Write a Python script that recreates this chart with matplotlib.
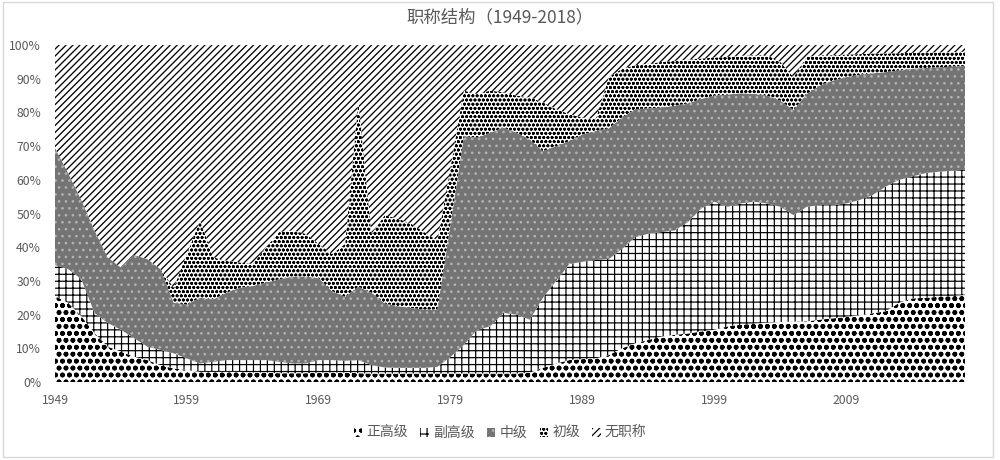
import numpy as np
import matplotlib
matplotlib.use('Agg')
import matplotlib.pyplot as plt
from matplotlib.patches import Rectangle

plt.rcParams['font.family'] = ['Noto Sans CJK SC', 'DejaVu Sans']
plt.rcParams['hatch.linewidth'] = 0.7

years = list(range(1949, 2019))

# 正高级 (%)
zheng_gao = [25.5, 23.5, 19.5, 14.5, 10.5, 9, 7.5, 6.5, 5, 4,
             3.6, 3, 3, 3, 3, 2.8, 2.8, 2.6, 2.6, 2.6,
             2.8, 2.8, 2.8, 2.6, 2.5, 2.5, 2.5, 2.5, 2.5, 2.5,
             2.5, 2.5, 2.5, 2.5, 2.5, 2.5, 2.8, 4.2, 5.5, 6.5,
             6.8, 7, 8, 10, 11.5, 12.5, 13.5, 14, 14.4, 15,
             15.5, 16.5, 17, 17.3, 17.6, 17.8, 17.9, 18, 18.5, 18.9,
             19.3, 19.8, 20.4, 21, 23.5, 24.8, 25, 25.3, 25.5, 25.8]
# 副高级 (%)
fu_gao = [9.2, 10, 11, 6, 7, 6.5, 5.5, 4, 4.5, 4.5,
          3.4, 2.5, 3, 3.5, 3.5, 3.7, 3.7, 3.4, 2.9, 2.9,
          3.7, 3.7, 3.5, 3.9, 2.5, 1.8, 1.7, 1.7, 1.7, 2,
          5, 8.5, 13, 14, 18, 17.5, 15.7, 20.8, 24.5, 28.5,
          28.9, 29.2, 28.5, 29.5, 31.5, 31.5, 31, 31, 33.1, 36.5,
          38, 35.5, 36, 36.2, 35.4, 34.2, 31.6, 34, 34, 33.6,
          33.7, 34.2, 35.1, 37, 36.5, 36.2, 37, 37.1, 37.2, 37.2]
# 中级 (%)
zhong_ji = [34.8, 28.5, 23.5, 24.5, 19.5, 18.5, 24.7, 26, 24, 15,
            16, 19.5, 18.5, 20, 21.5, 22, 23, 24.5, 25.8, 25.8,
            24.3, 20.5, 19, 21.8, 21.5, 19, 18.3, 17.8, 17.3, 17,
            39.5, 62, 57, 57.5, 55, 54, 53.5, 43.5, 40, 36.5,
            37.8, 38.3, 38.8, 39, 38, 37.2, 37, 37, 35.2, 32.5,
            31.5, 33.3, 32.7, 32, 32, 31.5, 31.2, 33.5, 35.5, 37,
            37.5, 37.2, 36.1, 34, 32.5, 32, 31.2, 31, 30.9, 30.8]
# 初级 (%)
chu_ji = [0, 0, 0, 0, 0, 0, 0, 0, 0, 4.5,
          15, 23, 12.5, 9.5, 7.5, 6.5, 10.5, 14, 13.7, 12.7,
          10.2, 11, 15.7, 55.2, 17.5, 26.2, 26, 25, 23, 20.5,
          17, 13.5, 13, 12.5, 10.5, 11, 12.5, 14.5, 11, 8,
          5, 3.5, 15.2, 14.5, 13, 13.3, 13.5, 13.3, 13, 12,
          11.3, 11.2, 11.1, 11.5, 12, 11.5, 9.8, 11, 9, 7.5,
          6.7, 6.1, 5.9, 5.5, 5.1, 4.7, 4.6, 4.4, 4.3, 4.2]
# 无职称 (%)
wu_zhicheng = [30.5, 38, 46, 55, 63, 66, 62.3, 63.5, 66.5, 72,
               62, 52, 63, 64, 64.5, 65, 60, 55.5, 55, 56,
               59, 62, 59, 16.5, 56, 50.5, 51.5, 53, 55.5, 58,
               36, 13.5, 14.5, 13.5, 14, 15, 15.5, 17, 19, 20.5,
               21.5, 22, 9.5, 7, 6, 5.5, 5, 4.7, 4.3, 4,
               3.7, 3.5, 3.2, 3, 3, 5, 9.5, 3.5, 3, 3,
               2.8, 2.7, 2.5, 2.5, 2.4, 2.3, 2.2, 2.2, 2.1, 2]

series_names = ['正高级', '副高级', '中级', '初级', '无职称']
x_ticks = list(range(1949, 2010, 10))
y_ticks = list(range(0, 101, 10))

styles = [
    dict(facecolor='white', edgecolor='black', hatch='ooo...'),
    dict(facecolor='white', edgecolor='black', hatch='+++'),
    dict(facecolor='#747474', edgecolor='#b4b4b4', hatch='...'),
    dict(facecolor='white', edgecolor='black', hatch='ooooo'),
    dict(facecolor='white', edgecolor='black', hatch='//////'),
]
hatch_lw = [1.15, 0.7, 0.7, 0.7, 0.75]

data = np.array([zheng_gao, fu_gao, zhong_ji, chu_ji, wu_zhicheng], dtype=float)
data = data / data.sum(axis=0) * 100.0
cum = np.vstack([np.zeros(len(years)), np.cumsum(data, axis=0)])

fig = plt.figure(figsize=(8, 3.68), dpi=125)
ax = fig.add_axes([0.055, 0.1696, 0.91, 0.7324])

handles = []
for i, name in enumerate(series_names):
    h = ax.fill_between(years, cum[i], cum[i + 1], linewidth=0,
                        label=name, **styles[i])
    if hasattr(h, 'set_hatch_linewidth'):
        h.set_hatch_linewidth(hatch_lw[i])
    handles.append(h)

ax.set_xlim(1949, 2018)
ax.set_ylim(0, 100)
ax.set_xticks(x_ticks)
ax.set_xticklabels([str(v) for v in x_ticks])
ax.set_yticks(y_ticks)
ax.set_yticklabels([f'{v}%' for v in y_ticks])
ax.tick_params(axis='both', length=0, labelsize=7, colors='#595959')
ax.tick_params(axis='x', pad=7)
ax.tick_params(axis='y', pad=8)
for s in ax.spines.values():
    s.set_visible(False)

fig.text(0.5, 1 - 17 / 460, '职称结构（1949-2018）', ha='center', va='center',
         fontsize=10, color='#595959')

fig.legend(handles, series_names, loc='center', bbox_to_anchor=(0.5, 1 - 433 / 460),
           ncol=5, frameon=False, handlelength=0.6, handleheight=0.6,
           handletextpad=0.3, columnspacing=0.9, fontsize=8, labelcolor='#595959')

fig.patches.append(Rectangle((0.003, 0.0065), 0.99, 0.989, transform=fig.transFigure,
                             fill=False, edgecolor='#d9d9d9', linewidth=0.8))

fig.savefig('out.png', dpi=125)
